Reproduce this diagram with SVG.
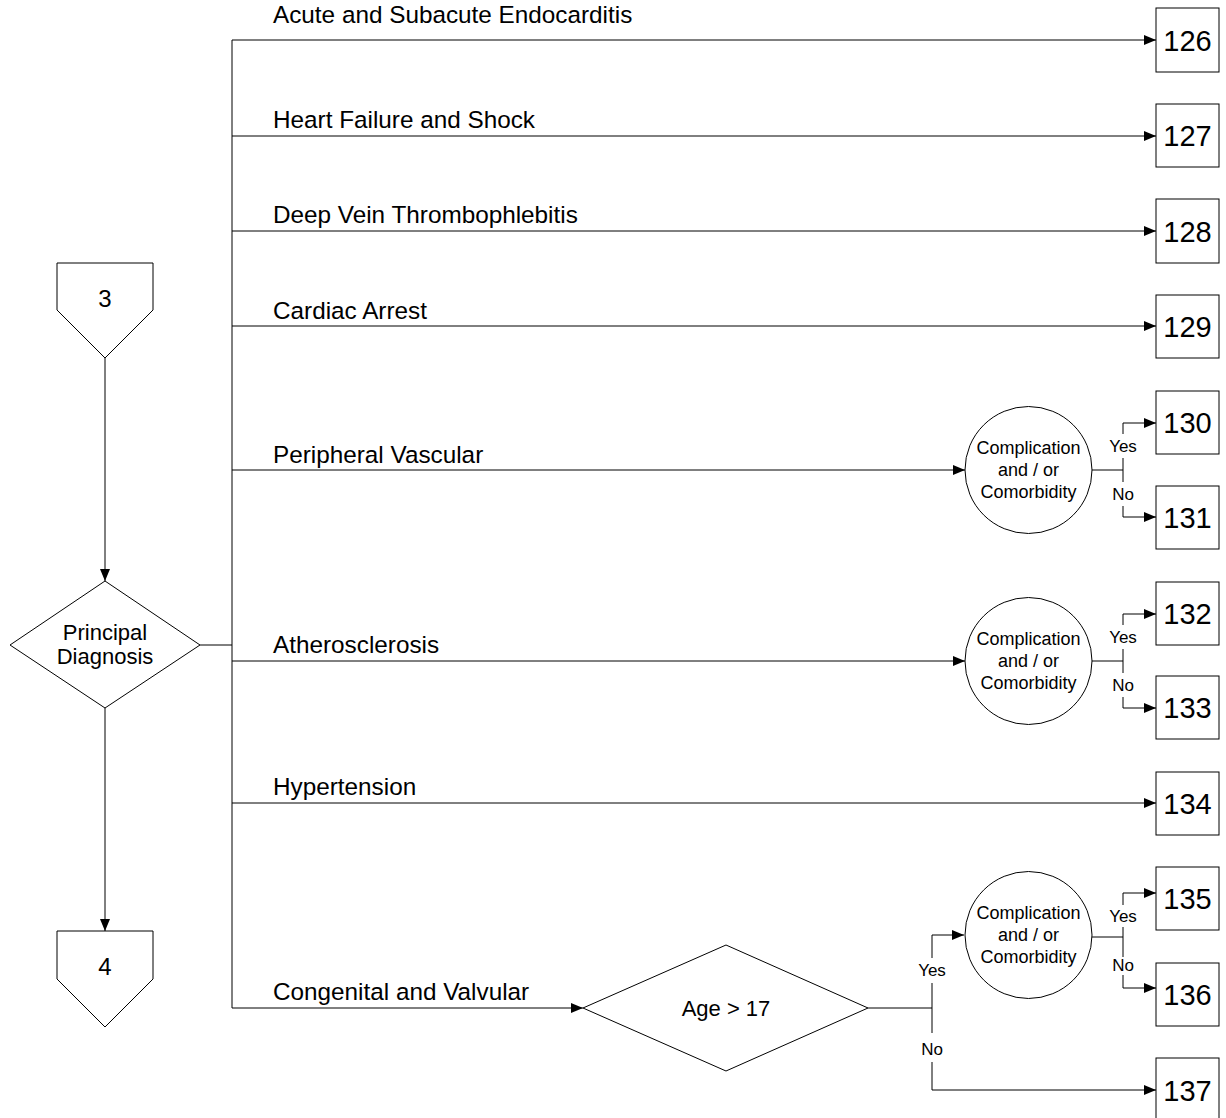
<svg xmlns="http://www.w3.org/2000/svg" width="1226" height="1118" viewBox="0 0 1226 1118">
<style>
text{font-family:"Liberation Sans",Arial,sans-serif;fill:#000}
.shape{fill:#fff;stroke:#000;stroke-width:1}
.ln{fill:none;stroke:#000;stroke-width:1}
.arr{marker-end:url(#ah)}
.lbl{font-size:24.3px}
.num{font-size:29px;text-anchor:middle}
.off{font-size:24px;text-anchor:middle}
.dia{font-size:22px;text-anchor:middle}
.small{font-size:17px;text-anchor:middle}
.cc{font-size:18px;text-anchor:middle}
</style>
<defs>
<marker id="ah" markerUnits="userSpaceOnUse" markerWidth="13" markerHeight="11" refX="12" refY="5" orient="auto">
<path d="M0,0 L12,5 L0,10 Z" fill="#000"/>
</marker>
</defs>

<g id="connectors">
<path class="ln arr" d="M105 358 V581"/>
<path class="ln arr" d="M105 708 V931"/>
<path class="ln" d="M200 645 H232"/>
<path class="ln" d="M232 40 V1008"/>
<path class="ln arr" d="M232 40 H1156"/>
<path class="ln arr" d="M232 136 H1156"/>
<path class="ln arr" d="M232 231 H1156"/>
<path class="ln arr" d="M232 326 H1156"/>
<path class="ln arr" d="M232 470 H965"/>
<path class="ln arr" d="M232 661 H965"/>
<path class="ln arr" d="M232 803 H1156"/>
<path class="ln arr" d="M232 1008 H583"/>
<path class="ln" d="M1092 470 H1123"/>
<path class="ln arr" d="M1123 434 V423 H1156"/>
<path class="ln" d="M1123 458 V482"/>
<path class="ln arr" d="M1123 506 V517 H1156"/>
<path class="ln" d="M1092 661 H1123"/>
<path class="ln arr" d="M1123 625 V614 H1156"/>
<path class="ln" d="M1123 649 V673"/>
<path class="ln arr" d="M1123 697 V708 H1156"/>
<path class="ln" d="M868 1008 H932"/>
<path class="ln arr" d="M932 958 V935 H964"/>
<path class="ln" d="M932 983 V1033"/>
<path class="ln arr" d="M932 1062 V1090 H1156"/>
<path class="ln" d="M1092 937 H1123"/>
<path class="ln arr" d="M1123 905 V893 H1156"/>
<path class="ln" d="M1123 927 V957"/>
<path class="ln arr" d="M1123 975 V988 H1156"/>

<text class="lbl" x="273" y="23">Acute and Subacute Endocarditis</text>
<text class="lbl" x="273" y="128">Heart Failure and Shock</text>
<text class="lbl" x="273" y="223">Deep Vein Thrombophlebitis</text>
<text class="lbl" x="273" y="319">Cardiac Arrest</text>
<text class="lbl" x="273" y="463">Peripheral Vascular</text>
<text class="lbl" x="273" y="653">Atherosclerosis</text>
<text class="lbl" x="273" y="795">Hypertension</text>
<text class="lbl" x="273" y="1000">Congenital and Valvular</text>

<text class="small" x="1123" y="452">Yes</text>
<text class="small" x="1123" y="500">No</text>
<text class="small" x="1123" y="643">Yes</text>
<text class="small" x="1123" y="691">No</text>
<text class="small" x="1123" y="922">Yes</text>
<text class="small" x="1123" y="971">No</text>
<text class="small" x="932" y="976">Yes</text>
<text class="small" x="932" y="1055">No</text>
</g>

<g id="offpage3">
<polygon class="shape" points="57,263 153,263 153,310 105,358 57,310"/>
<text class="off" x="105" y="307">3</text>
</g>
<g id="offpage4">
<polygon class="shape" points="57,931 153,931 153,979 105,1027 57,979"/>
<text class="off" x="105" y="975">4</text>
</g>
<g id="principal">
<polygon class="shape" points="10,645 105,581 200,645 105,708"/>
<text class="dia" x="105" y="640">Principal</text>
<text class="dia" x="105" y="664">Diagnosis</text>
</g>

<g id="b126"><rect class="shape" x="1156" y="8" width="63" height="64"/><text class="num" x="1187.5" y="51">126</text></g>
<g id="b127"><rect class="shape" x="1156" y="104" width="63" height="63"/><text class="num" x="1187.5" y="146">127</text></g>
<g id="b128"><rect class="shape" x="1156" y="199" width="63" height="64"/><text class="num" x="1187.5" y="242">128</text></g>
<g id="b129"><rect class="shape" x="1156" y="295" width="63" height="63"/><text class="num" x="1187.5" y="337">129</text></g>

<g id="cc1">
<circle class="shape" cx="1028.5" cy="470" r="63.5"/>
<text class="cc" x="1028.5" y="454">Complication</text>
<text class="cc" x="1028.5" y="476">and / or</text>
<text class="cc" x="1028.5" y="498">Comorbidity</text>
</g>
<g id="b130"><rect class="shape" x="1156" y="391" width="63" height="63"/><text class="num" x="1187.5" y="433">130</text></g>
<g id="b131"><rect class="shape" x="1156" y="486" width="63" height="63"/><text class="num" x="1187.5" y="528">131</text></g>

<g id="cc2">
<circle class="shape" cx="1028.5" cy="661" r="63.5"/>
<text class="cc" x="1028.5" y="645">Complication</text>
<text class="cc" x="1028.5" y="667">and / or</text>
<text class="cc" x="1028.5" y="689">Comorbidity</text>
</g>
<g id="b132"><rect class="shape" x="1156" y="582" width="63" height="63"/><text class="num" x="1187.5" y="624">132</text></g>
<g id="b133"><rect class="shape" x="1156" y="676" width="63" height="63"/><text class="num" x="1187.5" y="718">133</text></g>

<g id="b134"><rect class="shape" x="1156" y="772" width="63" height="63"/><text class="num" x="1187.5" y="814">134</text></g>

<g id="age">
<polygon class="shape" points="583,1008 726,945 868,1008 726,1071"/>
<text class="dia" x="726" y="1016">Age &gt; 17</text>
</g>

<g id="cc3">
<circle class="shape" cx="1028.5" cy="935" r="63.5"/>
<text class="cc" x="1028.5" y="919">Complication</text>
<text class="cc" x="1028.5" y="941">and / or</text>
<text class="cc" x="1028.5" y="963">Comorbidity</text>
</g>
<g id="b135"><rect class="shape" x="1156" y="867" width="63" height="63"/><text class="num" x="1187.5" y="909">135</text></g>
<g id="b136"><rect class="shape" x="1156" y="963" width="63" height="63"/><text class="num" x="1187.5" y="1005">136</text></g>
<g id="b137"><rect class="shape" x="1156" y="1058" width="63" height="63"/><text class="num" x="1187.5" y="1101">137</text></g>
</svg>
